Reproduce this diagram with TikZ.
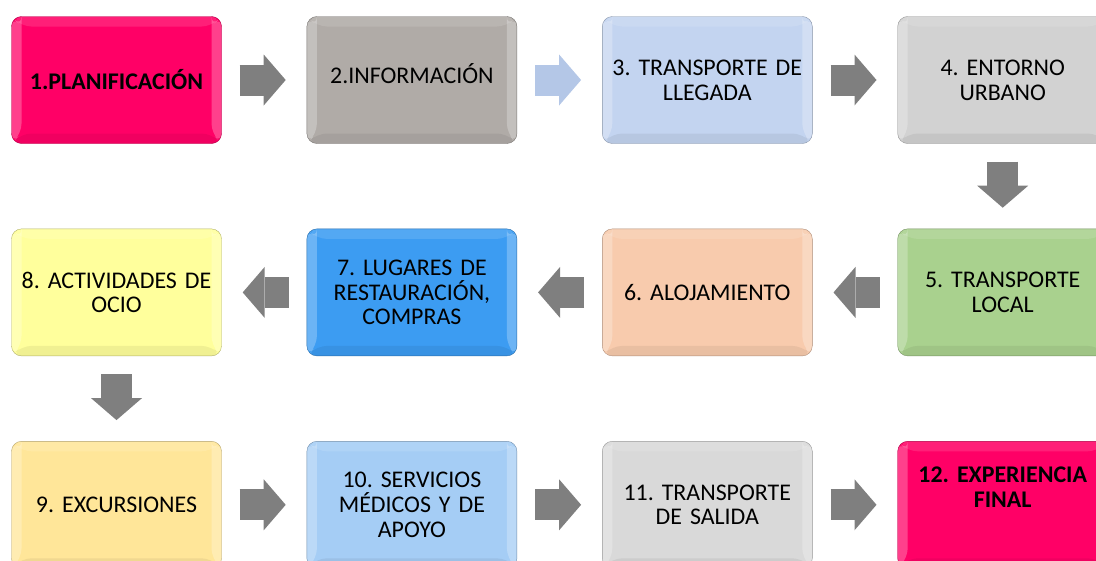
\documentclass[tikz,border=0pt]{standalone}
\usepackage{fontspec}
\setmainfont{Carlito}
\usetikzlibrary{positioning}
\usetikzlibrary{arrows.meta}
\usetikzlibrary{calc}

\definecolor{fucsia}{HTML}{FF0066}
\definecolor{piedra}{HTML}{B0ABA7}
\definecolor{celeste}{HTML}{C3D4F0}
\definecolor{perla}{HTML}{D2D2D2}
\definecolor{verde}{HTML}{A9D18E}
\definecolor{melocoton}{HTML}{F8CBAD}
\definecolor{azul}{HTML}{3C9CF2}
\definecolor{amarillo}{HTML}{FFFF9C}
\definecolor{oro}{HTML}{FFE699}
\definecolor{cielo}{HTML}{A5CDF5}
\definecolor{plata}{HTML}{D9D9D9}
\definecolor{flecha}{HTML}{7F7F7F}
\definecolor{flechaazul}{HTML}{B4C7E7}

\begin{document}
\begin{tikzpicture}[node distance=85bp,
                    main node/.style={rectangle,rounded corners=10bp,minimum width=210bp,minimum height=127bp,
                      text width=200bp,inner sep=0pt,align=center,font=\fontsize{24}{25}\selectfont\frenchspacing,
                      draw=#1!70!black,fill=#1,
                      path picture={
                        \fill[white,opacity=.25] (path picture bounding box.south west) -- ++(10bp,10bp) |- ($(path picture bounding box.north west)+(10bp,-10bp)$) -- (path picture bounding box.north west) -- cycle;
                        \fill[white,opacity=.25] (path picture bounding box.south east) -- ++(-10bp,10bp) |- ($(path picture bounding box.north east)+(-10bp,-10bp)$) -- (path picture bounding box.north east) -- cycle;
                        \fill[white,opacity=.12] (path picture bounding box.north west) -- ++(10bp,-10bp) -- ($(path picture bounding box.north east)+(-10bp,-10bp)$) -- (path picture bounding box.north east) -- cycle;
                        \fill[black,opacity=.06] (path picture bounding box.south west) -- ++(10bp,10bp) -- ($(path picture bounding box.south east)+(-10bp,10bp)$) -- (path picture bounding box.south east) -- cycle;
                      }},
                    flow/.style={line width=31bp,draw=#1,-{Triangle[length=22bp,width=51bp,line width=0pt]},
                      shorten <=18bp,shorten >=21bp}]

  \useasboundingbox (0,0) rectangle (1096bp,-561bp);

  \node[main node=fucsia] (1) at (116.5bp,-80bp) {\textbf{1.PLANIFICACIÓN}};
  \node[main node=piedra] (2) [right=of 1] {2.INFORMACIÓN\\[-11bp]\mbox{}};
  \node[main node=celeste] (3) [right=of 2] {3. TRANSPORTE DE\\LLEGADA};
  \node[main node=perla] (4) [right=of 3] {4. ENTORNO\\URBANO};
  \node[main node=verde] (5) [below=of 4] {5. TRANSPORTE\\LOCAL};
  \node[main node=melocoton] (6) [left=of 5] {6. ALOJAMIENTO};
  \node[main node=azul] (7) [left=of 6] {7. LUGARES DE\\RESTAURACIÓN,\\COMPRAS};
  \node[main node=amarillo] (8) [left=of 7] {8. ACTIVIDADES DE\\OCIO};
  \node[main node=oro] (9) [below=of 8] {9. EXCURSIONES};
  \node[main node=cielo] (10) [right=of 9] {10. SERVICIOS\\MÉDICOS Y DE\\APOYO};
  \node[main node=plata] (11) [right=of 10] {11. TRANSPORTE\\DE SALIDA};
  \node[main node=fucsia] (12) [right=of 11] {\textbf{12. EXPERIENCIA}\\\textbf{FINAL}\\[10bp]\mbox{}};

  \draw[flow=flecha] (1) -- (2);
  \draw[flow=flechaazul] (2) -- (3);
  \draw[flow=flecha] (3) -- (4);
  \draw[flow=flecha] (4) -- (5);
  \draw[flow=flecha] (5) -- (6);
  \draw[flow=flecha] (6) -- (7);
  \draw[flow=flecha] (7) -- (8);
  \draw[flow=flecha] (8) -- (9);
  \draw[flow=flecha] (9) -- (10);
  \draw[flow=flecha] (10) -- (11);
  \draw[flow=flecha] (11) -- (12);

\end{tikzpicture}
\end{document}
